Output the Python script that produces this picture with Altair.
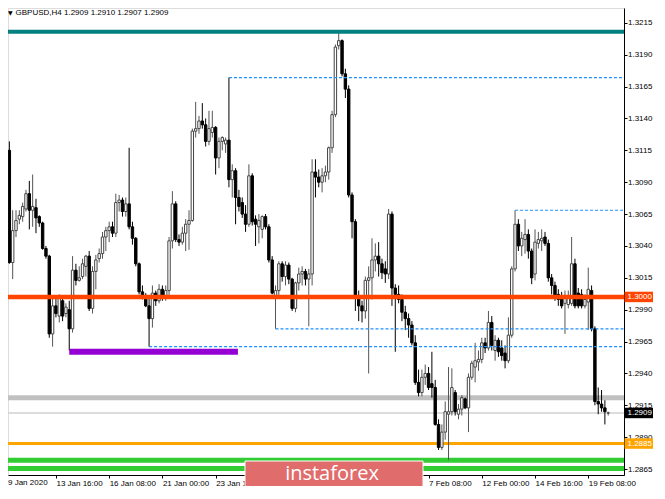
import json
import altair as alt
import pandas as pd

# ---- OHLC of GBPUSD H4 candles ----
opens = [1.3092,1.3112,1.3115,1.3027,1.3052,1.3061,1.3063,1.3069,1.3081,1.3068,
         1.3070,1.3063,1.3058,1.3038,1.3032,1.2971,1.2993,1.2985,1.2997,1.2987,
         1.2990,1.2975,1.3021,1.3013,1.3016,1.3024,1.3032,1.2991,1.3020,1.3030,
         1.3034,1.3047,1.3052,1.3055,1.3050,1.3074,1.3076,1.3067,1.3073,1.3055,
         1.3046,1.3026,1.3004,1.2999,1.2993,1.2983,1.3003,1.2997,1.3006,1.3001,
         1.3005,1.3044,1.3073,1.3045,1.3043,1.3050,1.3057,1.3060,1.3130,1.3132,
         1.3138,1.3135,1.3122,1.3129,1.3133,1.3109,1.3122,1.3120,1.3123,1.3092,
         1.3099,1.3078,1.3074,1.3065,1.3057,1.3095,1.3061,1.3055,1.3053,1.3063,
         1.3055,1.3029,1.2999,1.3005,1.3026,1.3016,1.3025,1.3014,1.2991,1.3011,
         1.3018,1.3020,1.3014,1.3018,1.3098,1.3094,1.3090,1.3095,1.3098,1.3117,
         1.3143,1.3197,1.3201,1.3175,1.3163,1.3080,1.3059,1.3001,1.2993,1.2989,
         1.3013,1.3015,1.3029,1.3032,1.3026,1.3022,1.3018,1.3065,1.3007,1.3002,
         1.2998,1.2988,1.2983,1.2978,1.2964,1.2933,1.2925,1.2937,1.2940,1.2932,
         1.2929,1.2900,1.2882,1.2894,1.2908,1.2910,1.2925,1.2908,1.2912,1.2920,
         1.2913,1.2937,1.2945,1.2949,1.2951,1.2964,1.2960,1.2980,1.2958,1.2966,
         1.2960,1.2956,1.2950,1.2970,1.3022,1.3057,1.3040,1.3045,1.3049,1.3036,
         1.3018,1.3042,1.3044,1.3047,1.3042,1.3015,1.3009,1.3002,1.3000,1.2995,
         1.2994,1.2995,1.3026,1.3003,1.3002,1.2993,1.2996,1.3005,1.2975,1.2918,
         1.2916,1.2913,1.2909]
highs = [1.3118,1.3120,1.3122,1.3068,1.3068,1.3068,1.3074,1.3084,1.3091,1.3096,
         1.3077,1.3064,1.3059,1.3040,1.3033,1.2999,1.3001,1.3002,1.3001,1.2995,
         1.2997,1.3032,1.3026,1.3024,1.3030,1.3033,1.3036,1.3024,1.3033,1.3038,
         1.3051,1.3055,1.3059,1.3059,1.3081,1.3080,1.3078,1.3078,1.3117,1.3059,
         1.3047,1.3027,1.3009,1.3003,1.3001,1.3009,1.3005,1.3010,1.3009,1.3009,
         1.3047,1.3083,1.3075,1.3049,1.3055,1.3061,1.3068,1.3132,1.3153,1.3142,
         1.3152,1.3140,1.3146,1.3146,1.3134,1.3125,1.3126,1.3125,1.3172,1.3104,
         1.3101,1.3084,1.3078,1.3072,1.3104,1.3097,1.3064,1.3065,1.3064,1.3065,
         1.3057,1.3032,1.3009,1.3028,1.3028,1.3028,1.3027,1.3015,1.3012,1.3023,
         1.3024,1.3022,1.3022,1.3108,1.3108,1.3100,1.3101,1.3103,1.3118,1.3146,
         1.3198,1.3208,1.3202,1.3179,1.3166,1.3082,1.3061,1.3005,1.2997,1.3016,
         1.3024,1.3046,1.3042,1.3043,1.3030,1.3028,1.3069,1.3067,1.3010,1.3009,
         1.3002,1.2993,1.2987,1.2981,1.2970,1.2943,1.2943,1.2947,1.2945,1.2957,
         1.2935,1.2904,1.2900,1.2918,1.2945,1.2944,1.2927,1.2916,1.2923,1.2921,
         1.2940,1.2950,1.2964,1.2958,1.2968,1.2968,1.2989,1.2985,1.2970,1.2968,
         1.2966,1.2962,1.2984,1.3024,1.3068,1.3061,1.3051,1.3061,1.3053,1.3038,
         1.3053,1.3051,1.3053,1.3051,1.3045,1.3018,1.3012,1.3006,1.3004,1.3005,
         1.3005,1.3047,1.3030,1.3007,1.3006,1.3002,1.3023,1.3009,1.2977,1.2929,
         1.2927,1.2919,1.2910]
lows = [1.3090,1.3109,1.3026,1.3014,1.3047,1.3057,1.3059,1.3067,1.3053,1.3055,
        1.3050,1.3055,1.3037,1.3030,1.2968,1.2961,1.2984,1.2980,1.2981,1.2984,
        1.2958,1.2972,1.3009,1.3012,1.3014,1.3016,1.2989,1.2987,1.3006,1.3027,
        1.3030,1.3036,1.3043,1.3047,1.3047,1.3067,1.3063,1.3063,1.3053,1.3041,
        1.3024,1.3002,1.2998,1.2992,1.2961,1.2976,1.2993,1.2995,1.2997,1.2997,
        1.3001,1.3038,1.3043,1.3040,1.3041,1.3036,1.3037,1.3059,1.3125,1.3128,
        1.3132,1.3118,1.3119,1.3125,1.3096,1.3101,1.3115,1.3113,1.3086,1.3078,
        1.3057,1.3067,1.3062,1.3051,1.3055,1.3056,1.3040,1.3042,1.3046,1.3053,
        1.3027,1.3002,1.2975,1.3001,1.3012,1.3009,1.3010,1.2989,1.2988,1.3005,
        1.3009,1.3009,1.2977,1.3009,1.3078,1.3086,1.3082,1.3090,1.3092,1.3113,
        1.3141,1.3194,1.3173,1.3156,1.3078,1.3046,1.2989,1.2981,1.2980,1.2983,
        1.2940,1.2998,1.3020,1.3016,1.3014,1.3011,1.3014,1.2993,1.2957,1.2995,
        1.2981,1.2974,1.2968,1.2962,1.2931,1.2922,1.2922,1.2931,1.2927,1.2921,
        1.2899,1.2880,1.2880,1.2888,1.2872,1.2907,1.2907,1.2904,1.2907,1.2912,
        1.2894,1.2935,1.2933,1.2942,1.2948,1.2956,1.2958,1.2958,1.2950,1.2953,
        1.2950,1.2944,1.2948,1.2968,1.3020,1.3036,1.3032,1.3034,1.3030,1.3010,
        1.3013,1.3038,1.3036,1.3040,1.3012,1.3002,1.2997,1.2993,1.2991,1.2971,
        1.2991,1.2993,1.2991,1.2991,1.2991,1.2991,1.2974,1.2973,1.2915,1.2908,
        1.2910,1.2900,1.2907]
closes = [1.3113,1.3116,1.3027,1.3052,1.3060,1.3064,1.3071,1.3081,1.3068,1.3071,
          1.3062,1.3058,1.3038,1.3032,1.2971,1.2993,1.2987,1.2999,1.2985,1.2992,
          1.2975,1.3021,1.3013,1.3015,1.3026,1.3032,1.2991,1.3020,1.3029,1.3034,
          1.3047,1.3052,1.3055,1.3050,1.3074,1.3076,1.3067,1.3073,1.3055,1.3046,
          1.3026,1.3004,1.2999,1.2993,1.2983,1.3003,1.2997,1.3006,1.3001,1.3005,
          1.3044,1.3073,1.3045,1.3043,1.3050,1.3057,1.3060,1.3130,1.3132,1.3138,
          1.3135,1.3122,1.3132,1.3133,1.3109,1.3122,1.3125,1.3123,1.3092,1.3099,
          1.3078,1.3071,1.3065,1.3057,1.3095,1.3059,1.3057,1.3060,1.3063,1.3055,
          1.3029,1.3003,1.3005,1.3026,1.3016,1.3025,1.3014,1.2991,1.3011,1.3018,
          1.3020,1.3014,1.3018,1.3098,1.3094,1.3090,1.3095,1.3098,1.3117,1.3143,
          1.3196,1.3201,1.3175,1.3163,1.3080,1.3059,1.3001,1.2993,1.2989,1.3013,
          1.3015,1.3029,1.3032,1.3026,1.3019,1.3018,1.3065,1.3007,1.3002,1.2998,
          1.2988,1.2983,1.2978,1.2964,1.2933,1.2925,1.2937,1.2940,1.2929,1.2929,
          1.2900,1.2882,1.2894,1.2910,1.2910,1.2929,1.2910,1.2912,1.2921,1.2913,
          1.2937,1.2948,1.2950,1.2951,1.2964,1.2960,1.2980,1.2962,1.2966,1.2957,
          1.2954,1.2950,1.2970,1.3022,1.3057,1.3040,1.3046,1.3049,1.3036,1.3015,
          1.3043,1.3045,1.3046,1.3042,1.3015,1.3009,1.3001,1.2998,1.2993,1.3000,
          1.3000,1.3026,1.2993,1.2993,1.2993,1.2998,1.3006,1.2975,1.2918,1.2916,
          1.2913,1.2910,1.2909]

# ---- axis text (labels hidden by the watermark are left out) ----
x_tick_bars = [16, 32, 48, 64, 128, 144, 160, 176]
x_tick_labels = ["13 Jan 16:00", "16 Jan 08:00", "21 Jan 00:00", "23 Jan 16:00",
                 "7 Feb 08:00", "12 Feb 00:00", "14 Feb 16:00", "19 Feb 08:00"]
first_x_label = "9 Jan 2020"
y_ticks = [1.2865, 1.2890, 1.2915, 1.2940, 1.2965, 1.2990, 1.3015, 1.3040,
           1.3065, 1.3090, 1.3115, 1.3140, 1.3165, 1.3190, 1.3215]

# ---- horizontal levels (price, first bar) ----
teal_level = 1.3208
red_level = 1.3000
purple_level, purple_from, purple_to = 1.2957, 20.0, 70.7
silver_level = 1.2921
bid_price = 1.2909
orange_level = 1.2885
green_levels = [1.2872, 1.28655]
dotted_levels = [1.3172, 1.3068, 1.2975, 1.2961]
dotted_from = [68, 154, 82, 44]

title_text = "GBPUSD,H4  1.2909 1.2910 1.2907 1.2909"

# ---- scales & shared axes ----
W, H = 616, 467
X_MIN = 1.593
X_MAX = X_MIN + W / 3.327
Y_MIN, Y_MAX = 1.286035, 1.3226615
xs = alt.Scale(domain=[X_MIN, X_MAX], nice=False, zero=False)
ys = alt.Scale(domain=[Y_MIN, Y_MAX], nice=False, zero=False)
FONT = "Liberation Sans"

lab_map = {str(b): t for b, t in zip(x_tick_bars, x_tick_labels)}
label_expr = json.dumps(lab_map) + "[toString(datum.value)]"
X_AX = alt.Axis(values=x_tick_bars, labelExpr=label_expr, grid=False,
                labelAlign="left", labelBaseline="top", labelFont=FONT,
                labelFontSize=8, labelColor="black", tickColor="black",
                tickSize=3, labelPadding=1, domainColor="black",
                labelFlush=False, labelOverlap=False, labelBound=False)
Y_AX = alt.Axis(orient="right", values=y_ticks, format=".4f", grid=False,
                labelFont=FONT, labelFontSize=8, labelColor="black",
                tickColor="black", tickSize=3, labelPadding=0.5,
                domainColor="black", labelOverlap=False, labelFlush=False)


def X(field):
    return alt.X(field, scale=xs, axis=X_AX, title=None)


def Y(field):
    return alt.Y(field, scale=ys, axis=Y_AX, title=None)


df = pd.DataFrame({"i": list(range(len(opens))), "o": opens, "h": highs,
                   "l": lows, "c": closes})
bull = "datum.c >= datum.o"

wicks = alt.Chart(df).mark_rule(strokeWidth=1, clip=True).encode(
    x=X("i:Q"), y=Y("l:Q"), y2="h:Q",
    color=alt.condition(bull, alt.value("#555555"), alt.value("#000000")),
)

bodies = alt.Chart(df).transform_calculate(
    xl="datum.i - 0.36", xr="datum.i + 0.36"
).mark_rect(clip=True, strokeWidth=1).encode(
    x=X("xl:Q"), x2="xr:Q", y=Y("o:Q"), y2="c:Q",
    fill=alt.condition(bull, alt.value("#ffffff"), alt.value("#000000")),
    stroke=alt.condition(bull, alt.value("#444444"), alt.value("#000000")),
)


def level(price, color, width, start=None, end=None, dash=None):
    d = pd.DataFrame({"p": [price],
                      "a": [X_MIN - 5 if start is None else start],
                      "b": [X_MAX + 5 if end is None else end]})
    kw = dict(color=color, strokeWidth=width, clip=True)
    if dash:
        kw["strokeDash"] = dash
    return alt.Chart(d).mark_rule(**kw).encode(x=X("a:Q"), x2="b:Q", y=Y("p:Q"))


def tag(price, fill):
    d = pd.DataFrame({"p": [price], "t": [f"{price:.4f}"]})
    box = alt.Chart(d).transform_calculate(
        top="datum.p + 0.00041", bot="datum.p - 0.00041"
    ).mark_rect(fill=fill).encode(
        x=alt.value(W + 0.5), x2=alt.value(W + 29), y=Y("top:Q"), y2="bot:Q")
    txt = alt.Chart(d).mark_text(align="left", baseline="middle", color="white",
                                 font=FONT, fontSize=8).encode(
        x=alt.value(W + 3.5), y=Y("p:Q"), text="t:N")
    return [box, txt]


one = pd.DataFrame({"k": [0]})

layers = [level(bid_price, "#d0d0d0", 1.5),
          level(silver_level, "#c0c0c0", 5),
          level(orange_level, "#ffa500", 3)]
for p in green_levels:
    layers.append(level(p, "#32cd32", 5))
layers += [wicks, bodies]
layers.append(level(teal_level, "#008080", 4))
for p, s in zip(dotted_levels, dotted_from):
    layers.append(level(p, "#1e90ff", 1.2, start=s, dash=[3, 2]))
layers.append(level(purple_level, "#9400d3", 6, start=purple_from, end=purple_to))
layers.append(level(red_level, "#ff4500", 4.5))
layers += tag(red_level, "#ff4500")
layers += tag(bid_price, "#000000")
layers += tag(orange_level, "#ffa500")

first_label = alt.Chart(one).mark_text(
    align="left", baseline="top", font=FONT, fontSize=8, color="black", text=first_x_label
).encode(x=alt.value(0), y=alt.value(H + 4))
layers.append(first_label)

tri = alt.Chart(one).mark_text(align="left", baseline="top", font="DejaVu Sans",
                               fontSize=6, color="black", text="\u25bc").encode(
    x=alt.value(0), y=alt.value(2))
ttl = alt.Chart(one).mark_text(align="left", baseline="top", font=FONT, fontSize=8,
                               color="black", text=title_text).encode(
    x=alt.value(7.5), y=alt.value(1))
layers += [tri, ttl]

wm_box = alt.Chart(one).mark_rect(fill="#e06c6c", stroke="#ffffff", strokeWidth=1).encode(
    x=alt.value(237), x2=alt.value(415), y=alt.value(453), y2=alt.value(480))
wm_txt = alt.Chart(one).mark_text(align="center", baseline="middle", font="Open Sans",
                                  fontSize=20, color="white", text="instaforex").encode(
    x=alt.value(324), y=alt.value(465.5))
layers += [wm_box, wm_txt]

chart = alt.layer(*layers).properties(
    width=W, height=H,
    padding={"left": 0, "top": 0, "right": 29, "bottom": 11},
    autosize=alt.AutoSizeParams(type="none"),
).configure_view(stroke=None).configure(background="white")

chart.save("out.html", embed_options={"renderer": "svg", "actions": False})
